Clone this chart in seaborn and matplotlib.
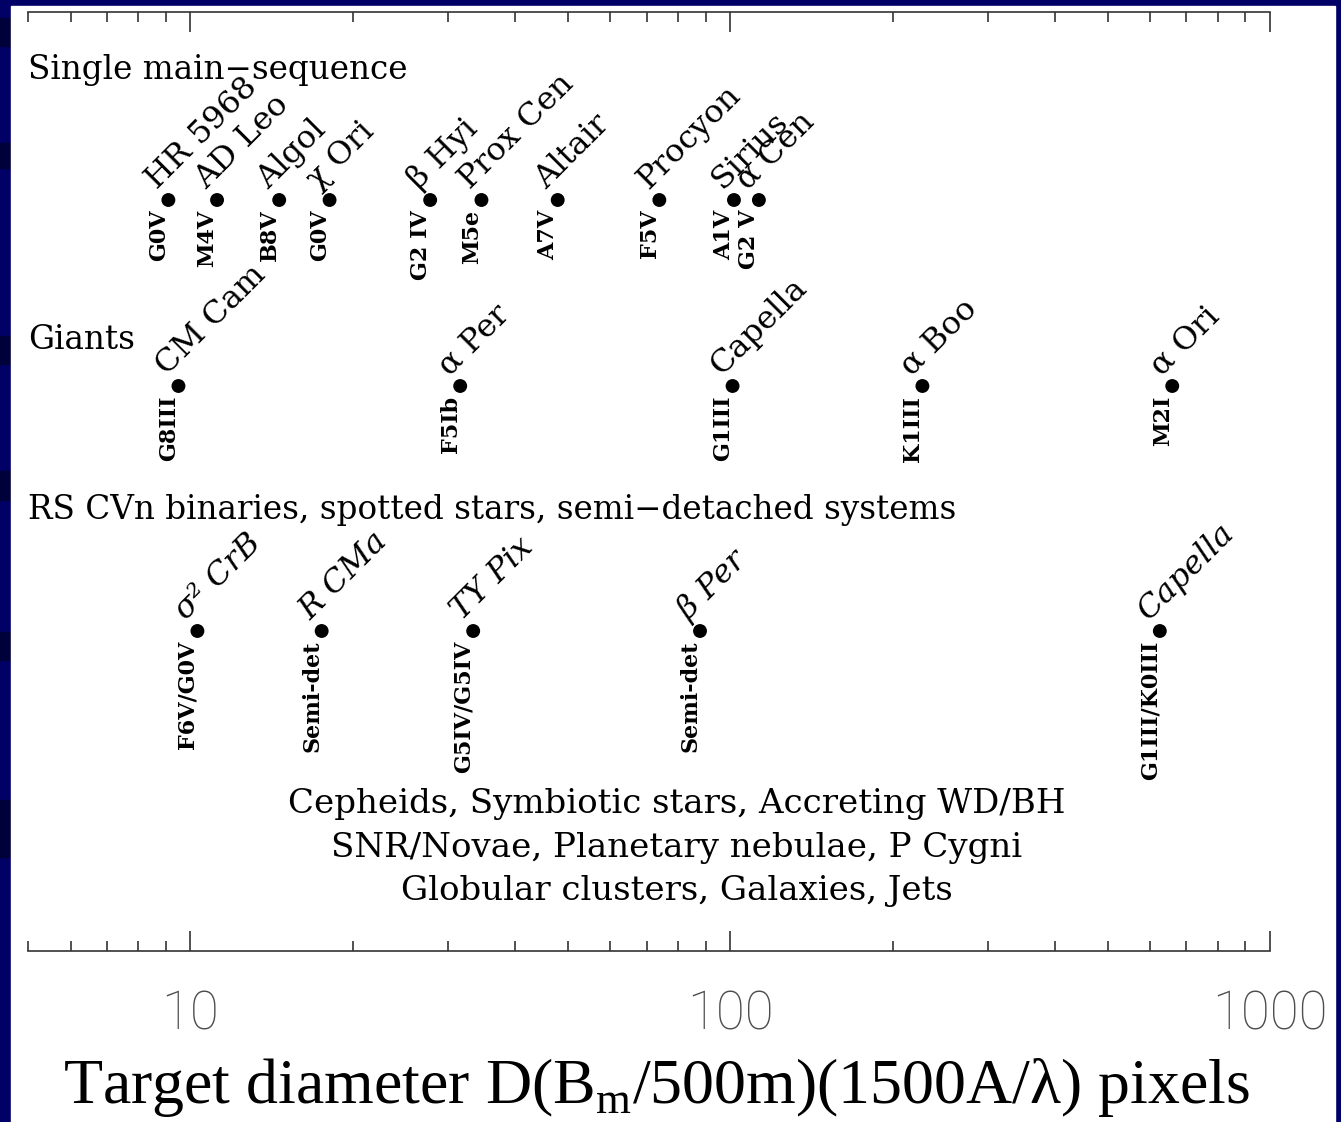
import numpy as np
import pandas as pd
import matplotlib
matplotlib.use("Agg")
import matplotlib.pyplot as plt
from matplotlib.patches import Rectangle
from matplotlib.ticker import NullFormatter, FixedLocator
import seaborn as sns

# ---------------------------------------------------------------------------
# Data: angular diameters (in resolution elements) of example targets
# ---------------------------------------------------------------------------
ms_names = ["HR 5968", "AD Leo", "Algol", "χ Ori", "β Hyi", "Prox Cen",
            "Altair", "Procyon", "Sirius", "α Cen"]
ms_types = ["G0V", "M4V", "B8V", "G0V", "G2 IV", "M5e", "A7V", "F5V", "A1V", "G2 V"]
ms_diam = [9.1, 11.2, 14.6, 18.1, 27.8, 34.6, 47.9, 73.9, 101.6, 113.0]

giant_names = ["CM Cam", "α Per", "Capella", "α Boo", "α Ori"]
giant_types = ["G8III", "F5Ib", "G1III", "K1III", "M2I"]
giant_diam = [9.5, 31.6, 101.0, 227.0, 659.0]

rs_names = ["σ² CrB", "R CMa", "TY Pix", "β Per", "Capella"]
rs_types = ["F6V/G0V", "Semi-det", "G5IV/G5IV", "Semi-det", "G1III/K0III"]
rs_diam = [10.3, 17.5, 33.4, 87.9, 625.0]

group_titles = ["Single main\u2212sequence", "Giants",
                "RS CVn binaries, spotted stars, semi\u2212detached systems"]
extended_lines = ["Cepheids, Symbiotic stars, Accreting WD/BH",
                  "SNR/Novae, Planetary nebulae, P Cygni",
                  "Globular clusters, Galaxies, Jets"]
tick_values = [10, 100, 1000]
tick_labels = ["10", "100", "1000"]

# ---------------------------------------------------------------------------
# Layout (vertical placement of the three groups, axis units from the top)
# ---------------------------------------------------------------------------
row_y = {"ms": 188, "giant": 374, "rs": 619}
title_y = [58, 328, 498]
extended_y = [792, 836, 879]

df = pd.concat([
    pd.DataFrame({"name": ms_names, "sptype": ms_types, "diameter": ms_diam, "group": "ms"}),
    pd.DataFrame({"name": giant_names, "sptype": giant_types, "diameter": giant_diam, "group": "giant"}),
    pd.DataFrame({"name": rs_names, "sptype": rs_types, "diameter": rs_diam, "group": "rs"}),
], ignore_index=True)
df["ypos"] = df["group"].map(row_y)

NAVY = "#000066"
W, H = 1341, 1122
fig = plt.figure(figsize=(W / 100, H / 100), dpi=100, facecolor=NAVY)

# slide frame: darker bands on the left strip, white panel
for y0, y1 in [(18, 46), (143, 168), (336, 364), (471, 500), (632, 660), (800, 857)]:
    fig.patches.append(Rectangle((0, 1 - y1 / H), 11 / W, (y1 - y0) / H,
                                 transform=fig.transFigure, color="#00003a", zorder=-2))
fig.patches.append(Rectangle((11 / W, 0), (1335 - 11) / W, (H - 6) / H,
                             transform=fig.transFigure, color="white", zorder=-2))

ax = fig.add_axes([28 / W, 1 - 951 / H, (1270 - 28) / W, (951 - 12) / H])
ax.set_zorder(2)
ax.set_facecolor("none")

sns.scatterplot(data=df, x="diameter", y="ypos", s=100, color="black",
                edgecolor="none", legend=False, ax=ax, zorder=3)

ax.set_xscale("log")
ax.set_xlim(5, 1000)
ax.set_ylim(939, 0)
ax.set_xlabel("")
ax.set_ylabel("")
ax.set_yticks([])
for side in ("left", "right"):
    ax.spines[side].set_visible(False)
for side in ("top", "bottom"):
    ax.spines[side].set_color("#333333")
    ax.spines[side].set_linewidth(1.2)

ax.xaxis.set_major_locator(FixedLocator(tick_values))
ax.set_xticklabels(tick_labels)
ax.xaxis.set_minor_formatter(NullFormatter())
ax.tick_params(axis="x", which="both", direction="in", top=True, bottom=True,
               color="#333333", width=1.2)
ax.tick_params(axis="x", which="major", length=14.4, pad=27, labelsize=38,
               labelcolor="#4d4d4d")
ax.tick_params(axis="x", which="minor", length=7.2)
for lab in ax.get_xticklabels():
    lab.set_fontfamily("Roboto")
    lab.set_fontweight("light")

serif = "DejaVu Serif"
ytr = ax.get_yaxis_transform()

for t, y in zip(group_titles, title_y):
    ax.text(0.0, y, t, transform=ytr, ha="left", va="center",
            fontsize=23.5, family=serif, color="black")

for t, y in zip(extended_lines, extended_y):
    ax.text(0.5225, y, t, transform=ytr, ha="center", va="center",
            fontsize=24.5, family=serif, color="black")

# star names (45 deg) and spectral types (vertical) next to each dot
for _, r in df.iterrows():
    style = "italic" if r["group"] == "rs" else "normal"
    ax.annotate(r["name"], (r["diameter"], r["ypos"]), xytext=(-8, 7),
                textcoords="offset points", rotation=45, rotation_mode="anchor",
                ha="left", va="baseline", fontsize=23, family=serif,
                fontstyle=style, color="black")
    ax.annotate(r["sptype"], (r["diameter"], r["ypos"]), xytext=(1, -7),
                textcoords="offset points", rotation=90, ha="right", va="top",
                fontsize=16, family=serif, fontweight="bold", color="black")

plt.rcParams["mathtext.fontset"] = "custom"
plt.rcParams["mathtext.rm"] = "Liberation Serif"
fig.text(657 / W, 1 - 1103 / H, r"Target diameter D(B$_{\mathrm{m}}$/500m)(1500A/λ) pixels",
         ha="center", va="baseline", fontsize=46, family="Liberation Serif",
         color="black")

fig.savefig("out.png", dpi=100, facecolor=NAVY)
